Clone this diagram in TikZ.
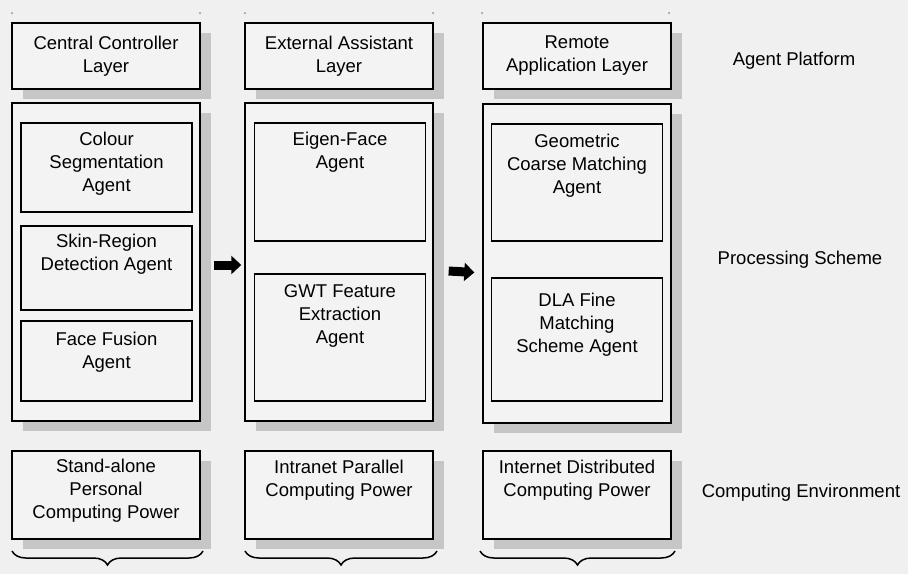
\documentclass[tikz,border=0pt]{standalone}
\usepackage{fontspec}
\setmainfont{Liberation Sans}
\usetikzlibrary{shadows,arrows.meta,decorations.pathreplacing,calc}

\definecolor{paper}{RGB}{240,240,240}
\definecolor{boxfill}{RGB}{243,243,243}
\definecolor{shade}{RGB}{198,198,198}

\begin{document}
\begin{tikzpicture}[x=1pt,y=-1pt,
  panel/.style={draw=black, line width=1.4pt, fill=boxfill, rectangle, inner sep=0pt,
    minimum width=188pt},
  shaded/.style={drop shadow={shadow xshift=11pt, shadow yshift=-10pt, fill=shade, opacity=1}},
  agentbox/.style={draw=black, line width=1.4pt, fill=boxfill, rectangle, inner sep=0pt,
    minimum width=171pt},
  txt/.style={font=\fontsize{18.5}{23}\selectfont, align=center, inner sep=0pt},
  sidetxt/.style={font=\fontsize{18.5}{23}\selectfont, inner sep=0pt},
  flow/.style={line width=9pt, -{Triangle[length=10pt,width=18pt]}},
  bracket/.style={decorate, decoration={brace, mirror, amplitude=14pt}, line width=1.5pt},
  pin/.style={circle, fill=gray!70, inner sep=0pt, minimum size=2.5pt}
]
% canvas
\fill[paper] (0,0) rectangle (908,574);
\useasboundingbox (0,0) rectangle (908,574);

% corner marks above the columns
\foreach \i/\x in {1/12,2/200,3/245,4/433,5/482,6/669}
  \node[pin] (m\i) at (\x,13) {};

% ---- agent platform layer ----
\node[panel, shaded, minimum height=66pt, txt] (top1) at (106,56) {Central Controller\\Layer};
\node[panel, shaded, minimum height=66pt, txt] (top2) at (339,56) {External Assistant\\Layer};
\node[panel, shaded, minimum height=66pt, txt] (top3) at (577,56) {Remote\\Application Layer};

% ---- processing scheme ----
\node[panel, shaded, minimum height=318pt] (proc1) at (106,262) {};
\node[panel, shaded, minimum height=318pt] (proc2) at (339,262) {};
\node[panel, shaded, minimum height=319pt] (proc3) at (577,263.5) {};

% column 1 agents
\node[agentbox, minimum height=89pt] (a11) at (106.5,167.5) {};
\node[agentbox, minimum height=84pt] (a12) at (106.5,268) {};
\node[agentbox, minimum height=80pt] (a13) at (106.5,361) {};
\node[txt, anchor=north] (t11) at ([yshift=-10pt]a11.north) {Colour\\Segmentation\\Agent};
\node[txt, anchor=north] (t12) at ([yshift=-9pt]a12.north) {Skin-Region\\Detection Agent};
\node[txt, anchor=north] (t13) at ([yshift=-12pt]a13.north) {Face Fusion\\Agent};

% column 2 agents
\node[agentbox, minimum height=118pt] (a21) at (340,182) {};
\node[agentbox, minimum height=127pt] (a22) at (340,337.5) {};
\node[txt, anchor=north] (t21) at ([yshift=-10pt]a21.north) {Eigen-Face\\Agent};
\node[txt, anchor=north] (t22) at ([yshift=-11pt]a22.north) {GWT Feature\\Extraction\\Agent};

% column 3 agents
\node[agentbox, minimum height=117pt] (a31) at (577,182.5) {};
\node[agentbox, minimum height=123pt] (a32) at (577,339.5) {};
\node[txt, anchor=north] (t31) at ([yshift=-11pt]a31.north) {Geometric\\Coarse Matching\\Agent};
\node[txt, anchor=north] (t32) at ([yshift=-16pt]a32.north) {DLA Fine\\Matching\\Scheme Agent};

% flow between the columns
\draw[flow] ($(proc1.east)+(13,3)$) -- ($(proc2.west)+(-3,3)$);
\draw[flow] ($(proc2.east)+(15,9)$) -- ($(proc3.west)+(-8,9)$);

% ---- computing environment ----
\node[panel, shaded, minimum height=88pt] (env1) at (106,495) {};
\node[panel, shaded, minimum height=88pt] (env2) at (339,495) {};
\node[panel, shaded, minimum height=88pt] (env3) at (577,495) {};
\node[txt, anchor=north] (e1) at ([yshift=-9pt]env1.north) {Stand-alone\\Personal\\Computing Power};
\node[txt, anchor=north] (e2) at ([yshift=-10pt]env2.north) {Intranet Parallel\\Computing Power};
\node[txt, anchor=north] (e3) at ([yshift=-10pt]env3.north) {Internet Distributed\\Computing Power};

% braces under the columns
\coordinate (b1l) at (12,551);  \coordinate (b1r) at (203,551);
\coordinate (b2l) at (245,551); \coordinate (b2r) at (437,551);
\coordinate (b3l) at (480,551); \coordinate (b3r) at (675,551);
\draw[bracket] (b1l) -- (b1r);
\draw[bracket] (b2l) -- (b2r);
\draw[bracket] (b3l) -- (b3r);

% row captions
\node[sidetxt] (cap1) at (794,61) {Agent Platform};
\node[sidetxt] (cap2) at (800,260) {Processing Scheme};
\node[sidetxt] (cap3) at (801,493) {Computing Environment};
\end{tikzpicture}
\end{document}
